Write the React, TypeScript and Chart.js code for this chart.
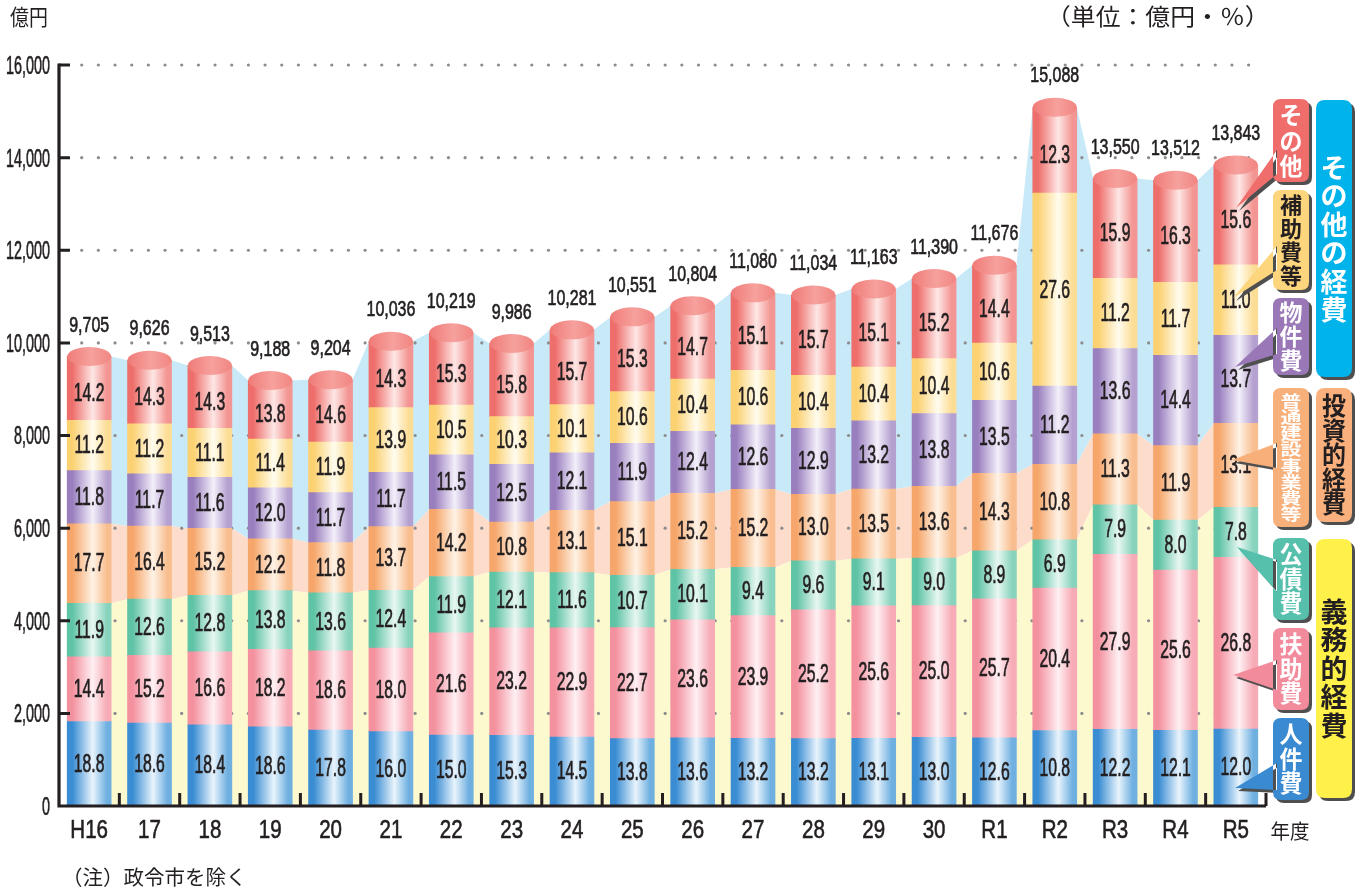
import React, { useEffect, useRef } from 'react';
import { Chart, registerables } from 'chart.js';

Chart.register(...registerables);

// ---------- data ----------
const years = ['H16', '17', '18', '19', '20', '21', '22', '23', '24', '25', '26', '27', '28', '29', '30', 'R1', 'R2', 'R3', 'R4', 'R5'];
const totals = [9705, 9626, 9513, 9188, 9204, 10036, 10219, 9986, 10281, 10551, 10804, 11080, 11034, 11163, 11390, 11676, 15088, 13550, 13512, 13843];

// shares (%) bottom → top
const personnelPct = [18.8, 18.6, 18.4, 18.6, 17.8, 16.0, 15.0, 15.3, 14.5, 13.8, 13.6, 13.2, 13.2, 13.1, 13.0, 12.6, 10.8, 12.2, 12.1, 12.0];
const assistancePct = [14.4, 15.2, 16.6, 18.2, 18.6, 18.0, 21.6, 23.2, 22.9, 22.7, 23.6, 23.9, 25.2, 25.6, 25.0, 25.7, 20.4, 27.9, 25.6, 26.8];
const debtPct = [11.9, 12.6, 12.8, 13.8, 13.6, 12.4, 11.9, 12.1, 11.6, 10.7, 10.1, 9.4, 9.6, 9.1, 9.0, 8.9, 6.9, 7.9, 8.0, 7.8];
const constructionPct = [17.7, 16.4, 15.2, 12.2, 11.8, 13.7, 14.2, 10.8, 13.1, 15.1, 15.2, 15.2, 13.0, 13.5, 13.6, 14.3, 10.8, 11.3, 11.9, 13.1];
const materialPct = [11.8, 11.7, 11.6, 12.0, 11.7, 11.7, 11.5, 12.5, 12.1, 11.9, 12.4, 12.6, 12.9, 13.2, 13.8, 13.5, 11.2, 13.6, 14.4, 13.7];
const subsidyPct = [11.2, 11.2, 11.1, 11.4, 11.9, 13.9, 10.5, 10.3, 10.1, 10.6, 10.4, 10.6, 10.4, 10.4, 10.4, 10.6, 27.6, 11.2, 11.7, 11.0];
const otherPct = [14.2, 14.3, 14.3, 13.8, 14.6, 14.3, 15.3, 15.8, 15.7, 15.3, 14.7, 15.1, 15.7, 15.1, 15.2, 14.4, 12.3, 15.9, 16.3, 15.6];

const seriesNames = ['人件費', '扶助費', '公債費', '普通建設事業費等', '物件費', '補助費等', 'その他'];
const seriesPct = [personnelPct, assistancePct, debtPct, constructionPct, materialPct, subsidyPct, otherPct];

const yMax = 16000;
const yStep = 2000;

// ---------- styles ----------
const CAT_COLORS = [
  { edge: '#3a8dd3', light: '#e9f4fc', right: '#6fb0e1' },
  { edge: '#f4919f', light: '#fef0f3', right: '#f7abb6' },
  { edge: '#5fc3a6', light: '#e7f7f1', right: '#88d3bd' },
  { edge: '#f6a66a', light: '#fef2e5', right: '#f9be90' },
  { edge: '#9a7fbf', light: '#f3effa', right: '#b5a1d0' },
  { edge: '#fbd172', light: '#fffcee', right: '#fcdd96' },
  { edge: '#ee6e6b', light: '#fde7e5', right: '#f39592' },
];
const BAND_BLUE = '#c8e9f8';
const BAND_PEACH = '#fddccb';
const BAND_YELLOW = '#fdf9cf';
const TEXT = '#231f20';
const BAR_W = 44;
const CAP_RY = 9.5;
const NUM_FONT = '"Liberation Sans", Arial, sans-serif';
const JP_FONT = '"Noto Sans CJK JP", "Noto Sans", sans-serif';

const SMALL_BOXES = [
  { text: 'その他', bg: '#ef6e6c', fg: '#ffffff', y: 99, h: 83, size: 23, sy: 1.05, lh: 25.5, tip: [1236, 208], base: [150, 174] },
  { text: '補助費等', bg: '#fdd57c', fg: '#231f20', y: 190, h: 100, size: 22, sy: 1.0, lh: 23.5, tip: [1233, 298], base: [246, 270] },
  { text: '物件費', bg: '#9a78b8', fg: '#ffffff', y: 298, h: 77, size: 23, sy: 1.0, lh: 24, tip: [1235, 367], base: [328, 354] },
  { text: '普通建設事業費等', bg: '#f8b07a', fg: '#ffffff', y: 388, h: 139, size: 21, sy: 0.74, lh: 16.2, tip: [1232, 460], base: [443, 468] },
  { text: '公債費', bg: '#56c0ad', fg: '#ffffff', y: 538, h: 82, size: 23, sy: 1.03, lh: 24.5, tip: [1237, 547], base: [560, 592] },
  { text: '扶助費', bg: '#f28c9d', fg: '#ffffff', y: 628, h: 82, size: 23, sy: 1.03, lh: 24.5, tip: [1233, 675], base: [660, 690] },
  { text: '人件費', bg: '#3a8ad2', fg: '#ffffff', y: 718, h: 82, size: 23, sy: 1.03, lh: 24.5, tip: [1235, 788], base: [763, 790] },
];
const BIG_BOXES = [
  { text: 'その他の経費', bg: '#00b3ea', fg: '#ffffff', y: 100, h: 277, size: 27, sy: 1.0, lh: 28.5 },
  { text: '投資的経費', bg: '#f9b07c', fg: '#231f20', y: 388, h: 134, size: 24, sy: 1.02, lh: 24.5 },
  { text: '義務的経費', bg: '#fff04a', fg: '#231f20', y: 539, h: 259, size: 27, sy: 1.02, lh: 28.5 },
];

function drawText(
  ctx: CanvasRenderingContext2D, s: string, x: number, y: number, size: number, sx: number,
  align: CanvasTextAlign, color: string, family: string, weight = 'normal', sy = 1, stroke = 0,
) {
  ctx.save();
  ctx.font = `${weight} ${size}px ${family}`;
  ctx.fillStyle = color;
  ctx.textBaseline = 'middle';
  ctx.textAlign = align;
  ctx.translate(x, y);
  ctx.scale(sx, sy);
  ctx.fillText(s, 0, 0);
  if (stroke > 0) {
    ctx.strokeStyle = color;
    ctx.lineWidth = stroke;
    ctx.lineJoin = 'round';
    ctx.strokeText(s, 0, 0);
  }
  ctx.restore();
}

function roundRectPath(ctx: CanvasRenderingContext2D, x: number, y: number, w: number, h: number, r: number) {
  ctx.moveTo(x + r, y);
  ctx.lineTo(x + w - r, y);
  ctx.quadraticCurveTo(x + w, y, x + w, y + r);
  ctx.lineTo(x + w, y + h - r);
  ctx.quadraticCurveTo(x + w, y + h, x + w - r, y + h);
  ctx.lineTo(x + r, y + h);
  ctx.quadraticCurveTo(x, y + h, x, y + h - r);
  ctx.lineTo(x, y + r);
  ctx.quadraticCurveTo(x, y, x + r, y);
  ctx.closePath();
}

function cumulative(levels: number, i: number) {
  let s = 0;
  for (let k = 0; k < levels; k++) s += seriesPct[k][i];
  return (totals[i] * s) / 100;
}

const decor = {
  id: 'decor',
  beforeDatasetsDraw(chart: any) {
    const ctx: CanvasRenderingContext2D = chart.ctx;
    const xs = chart.scales.x;
    const ys = chart.scales.y;
    const n = years.length;
    const band = (upper: (i: number) => number, lower: (i: number) => number, color: string) => {
      ctx.save();
      ctx.beginPath();
      for (let i = 0; i < n; i++) {
        const cx = xs.getPixelForValue(i);
        const py = ys.getPixelForValue(upper(i));
        if (i === 0) ctx.moveTo(cx - BAR_W / 2, py);
        else ctx.lineTo(cx - BAR_W / 2, py);
        ctx.lineTo(cx + BAR_W / 2, py);
      }
      for (let i = n - 1; i >= 0; i--) {
        const cx = xs.getPixelForValue(i);
        const py = ys.getPixelForValue(lower(i));
        ctx.lineTo(cx + BAR_W / 2, py);
        ctx.lineTo(cx - BAR_W / 2, py);
      }
      ctx.closePath();
      ctx.fillStyle = color;
      ctx.fill();
      ctx.restore();
    };
    band((i) => totals[i], (i) => cumulative(4, i), BAND_BLUE);
    band((i) => cumulative(4, i), (i) => cumulative(3, i), BAND_PEACH);
    band((i) => cumulative(3, i), () => 0, BAND_YELLOW);

    // dotted grid
    const { left, right } = chart.chartArea;
    ctx.save();
    ctx.fillStyle = '#8c8c8c';
    for (const t of ys.ticks) {
      if (t.value === 0) continue;
      const py = ys.getPixelForValue(t.value);
      for (let x = left + 22.7; x < right - 12; x += 16.67) {
        ctx.beginPath();
        ctx.arc(x, py, 1.6, 0, Math.PI * 2);
        ctx.fill();
      }
    }
    ctx.restore();
  },
  afterDatasetsDraw(chart: any) {
    const ctx: CanvasRenderingContext2D = chart.ctx;
    const xs = chart.scales.x;
    const ys = chart.scales.y;
    const { left, right, bottom, top } = chart.chartArea;
    const topMeta = chart.getDatasetMeta(seriesPct.length - 1);

    // caps
    topMeta.data.forEach((el: any) => {
      const g = ctx.createLinearGradient(el.x - BAR_W / 2, 0, el.x + BAR_W / 2, 0);
      g.addColorStop(0, '#f07b78');
      g.addColorStop(0.55, '#f6a19d');
      g.addColorStop(1, '#f18581');
      ctx.save();
      ctx.beginPath();
      ctx.ellipse(el.x, el.y, BAR_W / 2, CAP_RY, 0, 0, Math.PI * 2);
      ctx.fillStyle = g;
      ctx.fill();
      ctx.restore();
    });

    // segment labels
    seriesPct.forEach((pcts, k) => {
      const meta = chart.getDatasetMeta(k);
      meta.data.forEach((el: any, i: number) => {
        const yt = k === seriesPct.length - 1 ? el.y + CAP_RY : el.y;
        const cy = (yt + el.base) / 2 + 1;
        drawText(ctx, pcts[i].toFixed(1), el.x, cy, 25, 0.63, 'center', TEXT, NUM_FONT, 'normal', 1, 0.7);
      });
    });

    // totals
    topMeta.data.forEach((el: any, i: number) => {
      drawText(ctx, totals[i].toLocaleString('en-US'), el.x, el.y - 31, 22.5, 0.71, 'center', TEXT, NUM_FONT, 'normal', 1, 0.7);
    });

    // axes
    ctx.save();
    ctx.strokeStyle = '#231f20';
    ctx.lineWidth = 3.2;
    ctx.beginPath();
    ctx.moveTo(left, top - 1.5);
    ctx.lineTo(left, bottom);
    ctx.lineTo(right, bottom);
    ctx.stroke();
    ctx.lineWidth = 3;
    ctx.beginPath();
    for (const t of ys.ticks) {
      if (t.value === 0) continue;
      const py = ys.getPixelForValue(t.value);
      ctx.moveTo(left, py);
      ctx.lineTo(left + 11, py);
    }
    for (let i = 0; i < years.length; i++) {
      const x = i < years.length - 1 ? (xs.getPixelForValue(i) + xs.getPixelForValue(i + 1)) / 2 : right;
      ctx.moveTo(x, bottom);
      ctx.lineTo(x, bottom - 13);
    }
    ctx.stroke();
    ctx.restore();

    // y tick labels
    for (const t of ys.ticks) {
      const py = ys.getPixelForValue(t.value);
      drawText(ctx, t.value.toLocaleString('en-US'), 50, py + 2, 25, 0.575, 'right', TEXT, NUM_FONT, 'normal', 1, 0.6);
    }
    // x labels
    years.forEach((lab, i) => {
      drawText(ctx, lab, xs.getPixelForValue(i), bottom + 25, 25, 0.82, 'center', TEXT, NUM_FONT, 'normal', 1, 0.6);
    });

    // titles
    drawText(ctx, '億円', 10, 17, 22, 0.86, 'left', TEXT, JP_FONT);
    drawText(ctx, '（単位：億円・％）', 1046, 16, 23, 1.08, 'left', TEXT, JP_FONT);
    drawText(ctx, '（注）政令市を除く', 62, 877, 20.5, 1, 'left', TEXT, JP_FONT);
    drawText(ctx, '年度', 1290, 831, 20.5, 0.95, 'center', TEXT, JP_FONT);

    // callout boxes
    const BX = 1273;
    const BW = 36;
    const R = 8;
    const shapeSmall = (b: any, dx: number, dy: number) => {
      ctx.beginPath();
      roundRectPath(ctx, BX + dx, b.y + dy, BW, b.h, R);
      ctx.moveTo(BX + 4 + dx, b.base[0] + dy);
      ctx.lineTo(b.tip[0] + dx, b.tip[1] + dy);
      ctx.lineTo(BX + 4 + dx, b.base[1] + dy);
      ctx.closePath();
    };
    SMALL_BOXES.forEach((b) => {
      ctx.save();
      shapeSmall(b, 3, 3);
      ctx.fillStyle = '#4f4f4f';
      ctx.fill('nonzero');
      shapeSmall(b, 0, 0);
      ctx.fillStyle = b.bg;
      ctx.fill('nonzero');
      ctx.restore();
      const chars = Array.from(b.text);
      const cy = b.y + b.h / 2;
      chars.forEach((c, j) => {
        drawText(ctx, c, BX + BW / 2, cy + (j - (chars.length - 1) / 2) * b.lh, b.size, 1, 'center', b.fg, JP_FONT, 'bold', b.sy);
      });
    });
    const GX = 1316;
    BIG_BOXES.forEach((b) => {
      ctx.save();
      ctx.beginPath();
      roundRectPath(ctx, GX + 3, b.y + 3, BW, b.h, R + 1);
      ctx.fillStyle = '#4f4f4f';
      ctx.fill();
      ctx.beginPath();
      roundRectPath(ctx, GX, b.y, BW, b.h, R + 1);
      ctx.fillStyle = b.bg;
      ctx.fill();
      ctx.restore();
      const chars = Array.from(b.text);
      const cy = b.y + b.h / 2;
      chars.forEach((c, j) => {
        drawText(ctx, c, GX + BW / 2, cy + (j - (chars.length - 1) / 2) * b.lh, b.size, 1, 'center', b.fg, JP_FONT, 'bold', b.sy);
      });
    });
  },
};

export default function App() {
  const ref = useRef<HTMLCanvasElement>(null);
  useEffect(() => {
    const canvas = ref.current;
    if (!canvas) return;
    const datasets = seriesPct.map((pcts, k) => {
      const col = CAT_COLORS[k];
      return {
        label: seriesNames[k],
        data: totals.map((t, i) => (t * pcts[i]) / 100),
        borderWidth: 0,
        barThickness: BAR_W,
        backgroundColor: (c: any) => {
          const ch = c.chart;
          const xs = ch.scales && ch.scales.x;
          if (!xs || c.dataIndex == null) return col.edge;
          const cx = xs.getPixelForValue(c.dataIndex);
          if (!isFinite(cx)) return col.edge;
          const g = ch.ctx.createLinearGradient(cx - BAR_W / 2, 0, cx + BAR_W / 2, 0);
          g.addColorStop(0, col.edge);
          g.addColorStop(0.12, col.edge);
          g.addColorStop(0.58, col.light);
          g.addColorStop(0.9, col.right);
          g.addColorStop(1, col.right);
          return g;
        },
      };
    });
    const chart = new Chart(canvas, {
      type: 'bar',
      data: { labels: years, datasets },
      options: {
        responsive: false,
        animation: false,
        layout: { padding: { left: 59, top: 65, right: 99, bottom: 84 } },
        plugins: { legend: { display: false }, tooltip: { enabled: false } },
        scales: {
          x: { stacked: true, grid: { display: false, drawTicks: false }, border: { display: false }, ticks: { display: false } },
          y: {
            stacked: true,
            min: 0,
            max: yMax,
            grid: { display: false, drawTicks: false },
            border: { display: false },
            ticks: { display: false, stepSize: yStep },
          },
        },
      },
      plugins: [decor],
    } as any);
    return () => chart.destroy();
  }, []);
  return (
    <div style={{ position: 'absolute', left: 0, top: 0, width: 1365, height: 890, background: '#ffffff' }}>
      <canvas ref={ref} width={1365} height={890} style={{ display: 'block' }} />
    </div>
  );
}
